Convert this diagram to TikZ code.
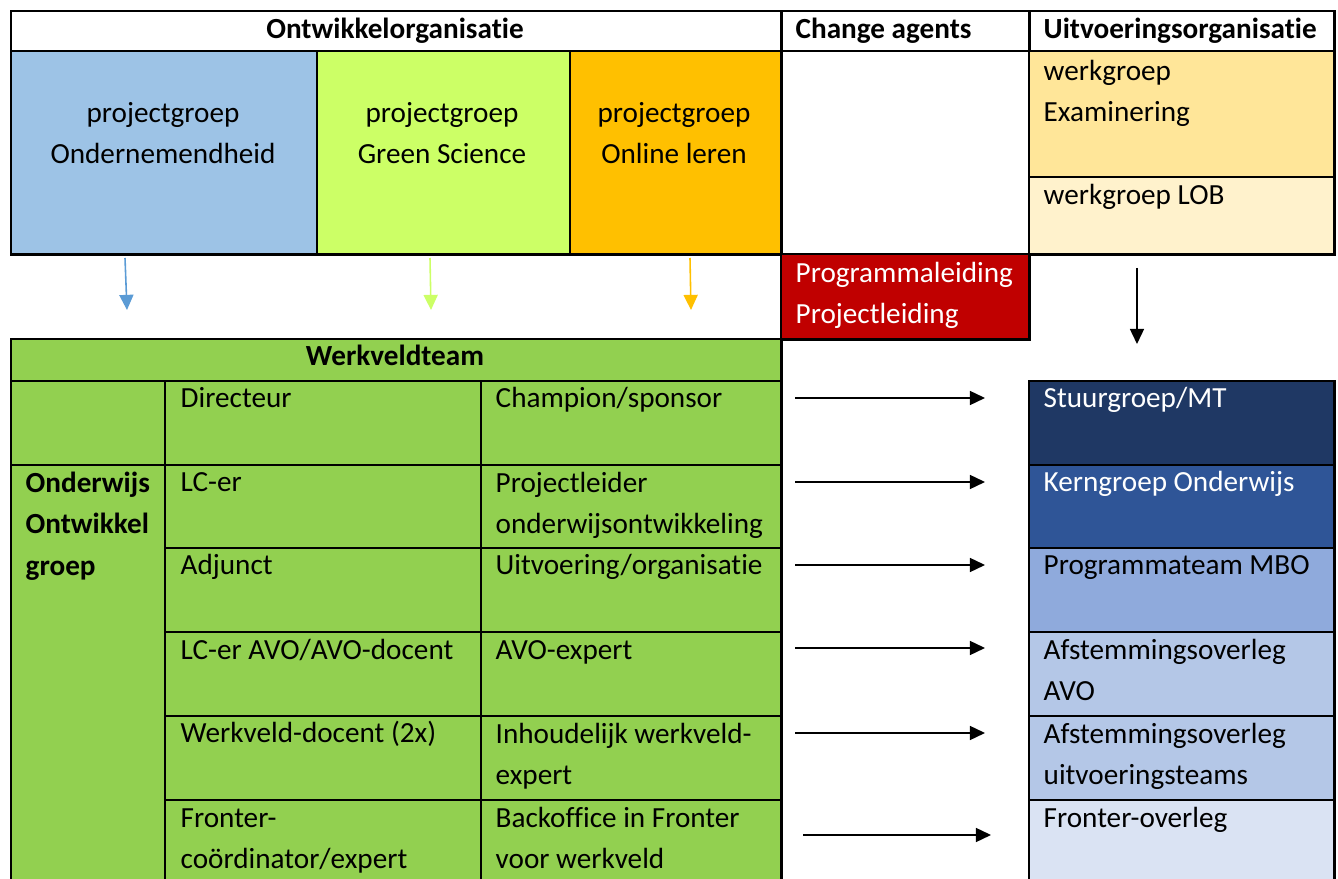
\documentclass[tikz,border=0pt]{standalone}
\usepackage{fontspec}
\setmainfont[Ligatures=CommonOff]{Carlito}
\usepackage{xcolor}
\definecolor{pgblue}{RGB}{157,195,230}
\definecolor{pggreen}{RGB}{204,255,102}
\definecolor{pgorange}{RGB}{255,192,0}
\definecolor{wgexam}{RGB}{255,230,153}
\definecolor{wglob}{RGB}{255,242,204}
\definecolor{leiding}{RGB}{192,0,0}
\definecolor{wvgreen}{RGB}{146,208,80}
\definecolor{uoA}{RGB}{31,56,100}
\definecolor{uoB}{RGB}{47,85,151}
\definecolor{uoC}{RGB}{143,170,220}
\definecolor{uoD}{RGB}{180,199,231}
\definecolor{uoE}{RGB}{218,227,243}
\definecolor{arblue}{RGB}{91,155,213}
\usetikzlibrary{arrows.meta}

\tikzset{
  cel/.style={draw, line width=0.7pt, anchor=north west, inner sep=0pt},
  txt/.style={anchor=base west, align=left, inner sep=0pt, yshift=-0.02cm},
  ctxt/.style={anchor=base, align=center, inner sep=0pt, yshift=-0.02cm},
  pijl/.style={line width=0.45pt, -{Triangle[length=4.3pt,width=4pt]}},
}

\begin{document}
\fontsize{8.3}{11.8}\selectfont
\begin{tikzpicture}[x=0.01cm, y=-0.01cm]
        % base of a multi-line text is its last line: one line is 41.6 here
        \pgfmathsetmacro{\rg}{41.6}
        \useasboundingbox (0,0) rectangle (1338,879);
        \clip (0,0) rectangle (1338,879);

        % Header row
        \node[cel, minimum width=7.70cm, minimum height=0.40cm] (hOntw) at (10,10) {};
        \node[cel, minimum width=2.48cm, minimum height=0.40cm] (hChange) at (780,10) {};
        \node[cel, minimum width=3.05cm, minimum height=0.40cm] (hUitv) at (1028,10) {};
        \node[ctxt] (tOntw) at (395,37) {\textbf{Ontwikkelorganisatie}};
        \node[txt] (tChange) at (795,37) {\textbf{Change agents}};
        \node[txt] (tUitv) at (1043,37) {\textbf{Uitvoeringsorganisatie}};

        % Projectgroepen
        \node[cel, fill=pgblue, minimum width=3.06cm, minimum height=2.03cm] (pgOnd) at (10,50) {};
        \node[cel, fill=pggreen, minimum width=2.53cm, minimum height=2.03cm] (pgGreen) at (316,50) {};
        \node[cel, fill=pgorange, minimum width=2.11cm, minimum height=2.03cm] (pgOnline) at (569,50) {};
        \node[cel, minimum width=2.48cm, minimum height=2.03cm] (caLeeg) at (780,50) {};
        \node[ctxt] (tOnd) at (163,120+\rg) {projectgroep\\Ondernemendheid};
        \node[ctxt] (tGreen) at (442,120+\rg) {projectgroep\\Green Science};
        \node[ctxt] (tOnline) at (674,120+\rg) {projectgroep\\Online leren};

        % Werkgroepen
        \node[cel, fill=wgexam, minimum width=3.05cm, minimum height=1.26cm] (wgExam) at (1028,50) {};
        \node[cel, fill=wglob, minimum width=3.05cm, minimum height=0.77cm] (wgLob) at (1028,176) {};
        \node[txt] (tExam) at (1043,78+\rg) {werkgroep\\Examinering};
        \node[txt] (tLob) at (1043,203) {werkgroep LOB};

        % Programmaleiding
        \node[cel, fill=leiding, minimum width=2.48cm, minimum height=0.85cm] (leid) at (780,253) {};
        \node[txt, text=white] (tLeid) at (795,280+\rg) {Programmaleiding\\Projectleiding};

        % Arrows down
        \coordinate (aOndS) at (125,258);  \coordinate (aOndE) at (127,310);
        \coordinate (aGreenS) at (430,258); \coordinate (aGreenE) at (431,310);
        \coordinate (aOnlS) at (690,258);  \coordinate (aOnlE) at (691,310);
        \coordinate (aUitS) at (1137,268); \coordinate (aUitE) at (1137,344);
        \draw[pijl, arblue] (aOndS) -- (aOndE);
        \draw[pijl, pggreen] (aGreenS) -- (aGreenE);
        \draw[pijl, pgorange] (aOnlS) -- (aOnlE);
        \draw[pijl] (aUitS) -- (aUitE);

        % Werkveldteam
        \node[cel, fill=wvgreen, minimum width=7.70cm, minimum height=0.42cm] (wvHead) at (10,338) {};
        \node[ctxt] (tWv) at (395,364) {\textbf{Werkveldteam}};
        \node[cel, fill=wvgreen, minimum width=1.54cm, minimum height=0.84cm] (oogLeeg) at (10,380) {};
        \node[cel, fill=wvgreen, minimum width=1.54cm, minimum height=4.30cm] (oog) at (10,464) {};
        \node[txt] (tOog) at (25,490+2*\rg) {\textbf{Onderwijs}\\\textbf{Ontwikkel}\\\textbf{groep}};

        \foreach \i/\y/\nr/\nt/\rol/\taak in {
            0/380/0/0/Directeur/Champion\slash sponsor,
            1/464/0/1/LC-er/Projectleider\\onderwijsontwikkeling,
            2/547/0/0/Adjunct/Uitvoering\slash organisatie,
            3/631/0/0/LC-er AVO\slash AVO-docent/AVO-expert,
            4/715/0/1/Werkveld-docent (2x)/Inhoudelijk werkveld-\\expert,
            5/799/1/1/Fronter-\\coördinator\slash expert/Backoffice in Fronter\\voor werkveld}
        {
            \node[cel, fill=wvgreen, minimum width=3.16cm, minimum height=0.84cm] (rol\i) at (164,\y) {};
            \node[cel, fill=wvgreen, minimum width=3.00cm, minimum height=0.84cm] (taak\i) at (480,\y) {};
            \node[txt] (tRol\i) at (180,\y+26+\nr*\rg) {\rol};
            \node[txt] (tTaak\i) at (495,\y+26+\nt*\rg) {\taak};
        }

        % Uitvoeringsorganisatie
        \foreach \i/\y/\n/\kl/\tk/\naam in {
            0/380/0/uoA/white/Stuurgroep\slash MT,
            1/464/0/uoB/white/Kerngroep Onderwijs,
            2/547/0/uoC/black/Programmateam MBO,
            3/631/1/uoD/black/Afstemmingsoverleg\\AVO,
            4/715/1/uoD/black/Afstemmingsoverleg\\uitvoeringsteams,
            5/799/0/uoE/black/Fronter-overleg}
        {
            \node[cel, fill=\kl, minimum width=3.05cm, minimum height=0.84cm] (uo\i) at (1028,\y) {};
            \node[txt, text=\tk] (tUo\i) at (1043,\y+26+\n*\rg) {\naam};
        }

        % Arrows right
        \foreach \i/\y in {0/398, 1/482, 2/565, 3/648, 4/733}
        {
            \coordinate (rS\i) at (795,\y);
            \coordinate (rE\i) at (985,\y);
            \draw[pijl] (rS\i) -- (rE\i);
        }
        \coordinate (rS5) at (803,835);
        \coordinate (rE5) at (991,835);
        \draw[pijl] (rS5) -- (rE5);
    \end{tikzpicture}
\end{document}
